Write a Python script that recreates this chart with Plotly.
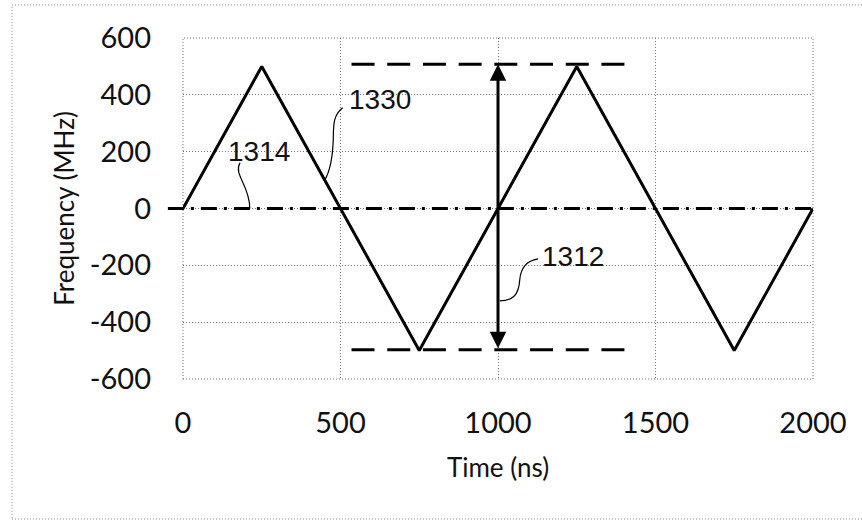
import plotly.graph_objects as go

# ---- data ----
time_ns = [0, 250, 750, 1250, 1750, 2000]
freq_mhz = [0, 500, -500, 500, -500, 0]

baseline_x = [-48, 2000]
baseline_y = 0
upper_limit = 508
lower_limit = -497
limit_x = [535, 1410]
arrow_x = 1000

x_ticks = [0, 500, 1000, 1500, 2000]
x_ticktext = ["0", "500", "1000", "1500", "2000"]
y_ticks = [-600, -400, -200, 0, 200, 400, 600]
y_ticktext = ["-600", "-400", "-200", "0", "200", "400", "600"]
x_range = [0, 2000]
y_range = [-600, 600]

labels = ["1330", "1314", "1312"]
label_x = [625, 241, 1238]
label_y = [383, 200, -170]

leader_paths = [
    "M507,354.5 C475,326 478,291 477,242 C475,178 469,136 450,100",
    "M181,161 C159,118.5 212,83 212,0",
    "M1127,-177 C1088,-184 1072,-209 1069,-251 C1066,-304 1047,-325 1005,-325",
]

tick_font = dict(family="Lato, Carlito, Open Sans, sans-serif", size=29, color="#111")
title_font = dict(family="Lato, Carlito, Open Sans, sans-serif", size=26, color="#111")
label_font = dict(family="Liberation Sans", size=28, color="#111")

fig = go.Figure()

fig.add_trace(go.Scatter(
    x=time_ns, y=freq_mhz, mode="lines",
    line=dict(color="black", width=3),
    showlegend=False, hoverinfo="skip",
))

for yv in (upper_limit, lower_limit):
    fig.add_trace(go.Scatter(
        x=limit_x, y=[yv, yv], mode="lines",
        line=dict(color="black", width=3, dash="23px,12.7px"),
        showlegend=False, hoverinfo="skip",
    ))

shapes = []
span = x_range[1] - x_range[0]
# dash-dot zero baseline (extends slightly left of plot area)
shapes.append(dict(
    type="line", xref="x domain", yref="y",
    x0=(baseline_x[0] - x_range[0]) / span, x1=(baseline_x[1] - x_range[0]) / span,
    y0=baseline_y, y1=baseline_y,
    line=dict(color="black", width=3, dash="16px,7px,3px,7px"),
    layer="above",
))
# plot-area dotted border
shapes.append(dict(
    type="rect", xref="x domain", yref="y domain", x0=0, x1=1, y0=0, y1=1,
    line=dict(color="#777", width=1, dash="1px,2px"), layer="below",
))
# outer dotted border
shapes.append(dict(
    type="rect", xref="paper", yref="paper", x0=-0.2714, x1=1.2, y0=-0.4106, y1=1.097,
    line=dict(color="#888", width=1, dash="1px,2px"), layer="below",
))
for p in leader_paths:
    shapes.append(dict(type="path", xref="x", yref="y", path=p,
                       line=dict(color="black", width=1.2)))

annotations = []
annotations.append(dict(
    x=arrow_x, y=upper_limit, ax=arrow_x, ay=lower_limit,
    xref="x", yref="y", axref="x", ayref="y", text="",
    showarrow=True, arrowhead=2, startarrowhead=2, arrowside="end+start",
    arrowwidth=3, arrowsize=1.1, startarrowsize=1.1, arrowcolor="black",
))
for t, xv, yv in zip(labels, label_x, label_y):
    annotations.append(dict(x=xv, y=yv, xref="x", yref="y", text=t,
                            showarrow=False, font=label_font))

fig.update_layout(
    width=862, height=523,
    margin=dict(l=183, r=49, t=38, b=144),
    paper_bgcolor="white", plot_bgcolor="white",
    shapes=shapes, annotations=annotations,
    xaxis=dict(
        range=x_range, tickvals=x_ticks, ticktext=x_ticktext, ticks="",
        showline=False, zeroline=False,
        showgrid=True, gridcolor="#777", gridwidth=1, griddash="1px,2px",
        tickfont=tick_font, ticklabelstandoff=24,
        title=dict(text="Time (ns)", font=title_font, standoff=20),
    ),
    yaxis=dict(
        range=y_range, tickvals=y_ticks, ticktext=y_ticktext, ticks="",
        showline=False, zeroline=False,
        showgrid=True, gridcolor="#777", gridwidth=1, griddash="1px,2px",
        tickfont=tick_font, ticklabelstandoff=31,
        title=dict(text="Frequency (MHz)", font=title_font, standoff=7),
    ),
)

fig.write_html("out.html")
